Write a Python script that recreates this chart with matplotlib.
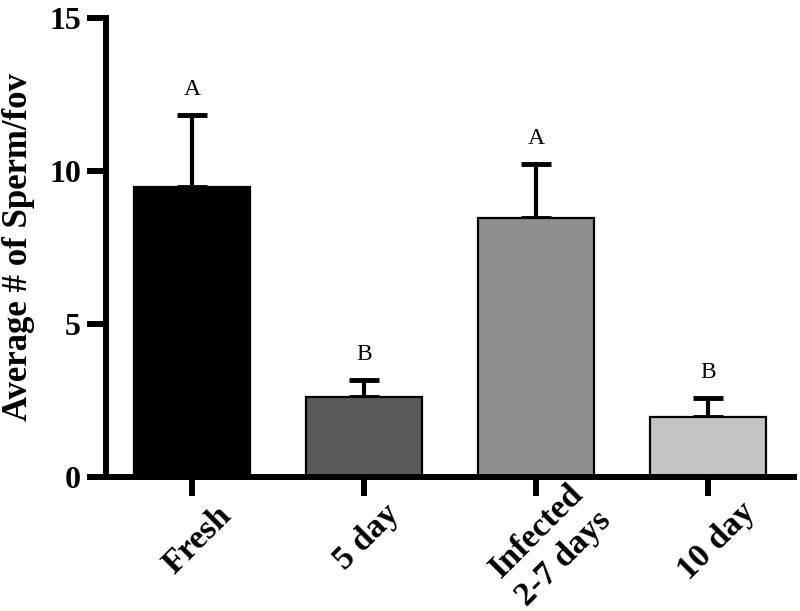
import matplotlib
matplotlib.use("Agg")
import matplotlib.pyplot as plt
import matplotlib.transforms as mtransforms
import numpy as np

categories = ["Fresh", "5 day", "Infected\n2-7 days", "10 day"]
means = [9.48, 2.61, 8.46, 1.96]
errors = [2.35, 0.56, 1.77, 0.62]
letters = ["A", "B", "A", "B"]
colors = ["#000000", "#5a5a5a", "#8f8f8f", "#c3c3c3"]

plt.rcParams['font.family'] = ['Liberation Serif', 'DejaVu Serif']

fig = plt.figure(figsize=(8.0, 6.11), dpi=100)
ax = fig.add_axes([0.1325, 0.2193, 0.86, 0.7512])

x = np.arange(len(categories))
ax.bar(x, means, width=0.675, color=colors, edgecolor="black", linewidth=1.6, zorder=2)
ax.errorbar(x, means, yerr=[np.zeros(len(means)), errors], fmt="none",
            ecolor="black", elinewidth=3.0, capsize=10.5, capthick=3.5, zorder=1)

for xi, m, e, L in zip(x, means, errors, letters):
    ax.annotate(L, (xi, m + e), xytext=(0, 11), textcoords="offset points",
                ha="center", va="bottom", fontsize=17)

ax.set_xlim(-0.5, 3.5)
ax.set_ylim(0, 15)
ax.set_yticks([0, 5, 10, 15])
ax.set_xticks(x)
ax.set_xticklabels([])

label_offsets = [(6, -63), (3, -60), (14, -68), (9, -64)]
for xi, cat, (dx, dy) in zip(x, categories, label_offsets):
    ax.annotate(cat, (xi, 0), xycoords=("data", "axes fraction"),
                xytext=(dx, dy), textcoords="offset pixels",
                rotation=45, ha="center", va="center", rotation_mode="anchor",
                fontsize=24.5, fontweight="bold", multialignment="center",
                linespacing=1.3, annotation_clip=False)

ax.tick_params(axis="y", labelsize=23, width=4.3, length=14, pad=4)
ax.tick_params(axis="x", width=4.3, length=14)
for lab in ax.get_yticklabels():
    lab.set_fontweight("bold")

for s in ["top", "right"]:
    ax.spines[s].set_visible(False)
for s in ["left", "bottom"]:
    ax.spines[s].set_linewidth(4.3)

ax.set_ylabel("Average # of Sperm/fov", fontsize=25, fontweight="bold")
ax.yaxis.set_label_coords(35 / 800, 0.5,
                          transform=mtransforms.blended_transform_factory(fig.transFigure, ax.transAxes))

fig.savefig("out.png", dpi=100)
